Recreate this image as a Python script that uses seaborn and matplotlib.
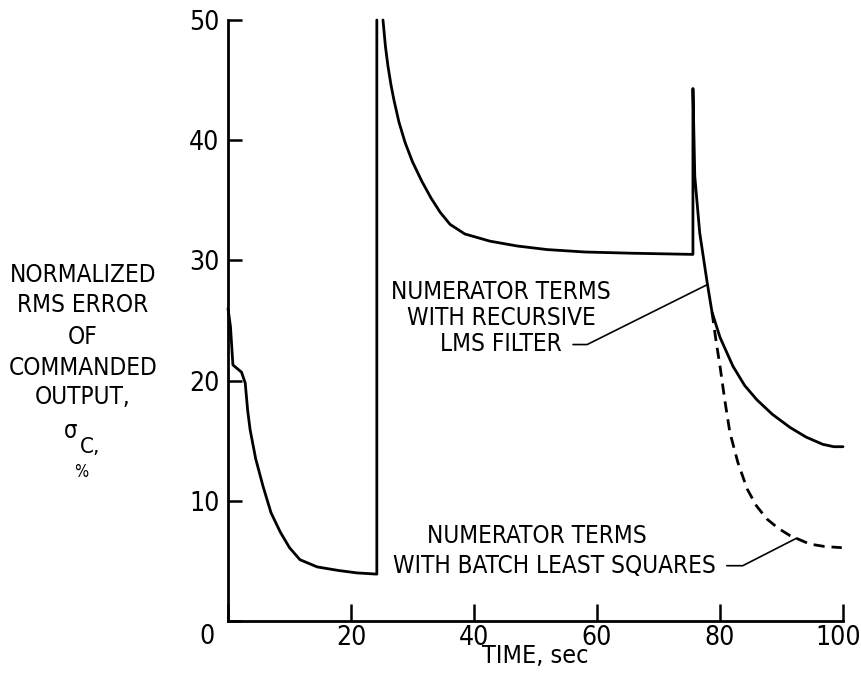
import matplotlib
matplotlib.use("Agg")
import matplotlib.pyplot as plt
import matplotlib.transforms as mtransforms
import numpy as np
import pandas as pd
import seaborn as sns

# ---- data ----
seg1_t = [0.0, 0.4, 0.8, 1.5, 2.2, 2.8, 3.2, 3.6, 4.5, 5.7, 7.0, 8.5, 10.0, 11.7, 14.5, 18.0, 21.0, 24.2, 24.2]
seg1_e = [26.0, 24.5, 21.3, 21.0, 20.7, 19.8, 17.5, 15.9, 13.5, 11.2, 9.0, 7.4, 6.1, 5.1, 4.5, 4.2, 4.0, 3.9, 50.0]

seg2_t = [25.2, 25.6, 26.0, 26.5, 27.0, 27.8, 28.8, 30.0, 31.5, 33.0, 34.5, 36.1, 38.5, 42.6, 47.0, 51.9, 58.0, 65.4, 75.6,
          75.6, 75.9, 76.7, 77.9, 78.7, 80.0, 82.1, 84.0, 86.0, 88.5, 91.4, 94.0, 96.7, 98.5, 100.0]
seg2_e = [50.0, 47.8, 46.2, 44.6, 43.3, 41.5, 39.8, 38.2, 36.6, 35.2, 34.0, 33.0, 32.2, 31.6, 31.2, 30.9, 30.7, 30.6, 30.5,
          44.3, 37.0, 32.3, 28.2, 25.7, 23.6, 21.2, 19.6, 18.4, 17.2, 16.1, 15.3, 14.7, 14.5, 14.5]

batch_t = [78.7, 79.3, 80.0, 80.8, 81.6, 82.9, 84.4, 85.9, 87.6, 89.5, 91.4, 94.6, 97.0, 99.8]
batch_e = [25.7, 23.5, 21.2, 18.3, 15.7, 13.2, 11.0, 9.6, 8.5, 7.7, 7.1, 6.4, 6.2, 6.1]

xticks = [0, 20, 40, 60, 80, 100]
xticklabels = ["", "20", "40", "60", "80", "100"]
yticks = [0, 10, 20, 30, 40, 50]
yticklabels = ["", "10", "20", "30", "40", "50"]

ylabel_lines = ["NORMALIZED", "RMS ERROR", "OF", "COMMANDED", "OUTPUT,"]
recursive_label = "NUMERATOR TERMS\nWITH RECURSIVE\nLMS FILTER"
batch_label1 = "NUMERATOR TERMS"
batch_label2 = "WITH BATCH LEAST SQUARES"

# ---- style ----
sns.set_style("ticks")
plt.rcParams["font.family"] = ["DejaVu Sans"]
plt.rcParams["font.stretch"] = "condensed"
plt.rcParams["text.color"] = "black"
plt.rcParams["axes.labelcolor"] = "black"
plt.rcParams["xtick.color"] = "black"
plt.rcParams["ytick.color"] = "black"

W, H = 862, 673
fig = plt.figure(figsize=(W / 100, H / 100), dpi=100)
ax = fig.add_axes([228 / W, 1 - 621 / H, (843 - 228) / W, (621 - 20) / H])

solid = pd.DataFrame({
    "t": seg1_t + seg2_t,
    "e": seg1_e + seg2_e,
    "seg": [1] * len(seg1_t) + [2] * len(seg2_t),
})
sns.lineplot(data=solid, x="t", y="e", units="seg", estimator=None, sort=False,
             color="black", lw=2.0, ax=ax, clip_on=False)
sns.lineplot(x=batch_t, y=batch_e, estimator=None, sort=False, color="black",
             lw=2.0, linestyle=(0, (4.0, 2.5)), ax=ax)

ax.set_xlim(0, 100)
ax.set_ylim(0, 50)
ax.set_xticks(xticks)
ax.set_xticklabels(xticklabels)
ax.set_yticks(yticks)
ax.set_yticklabels(yticklabels)
ax.tick_params(axis="both", direction="in", labelsize=19, width=1.8, color="black")
ax.tick_params(axis="x", length=12, pad=3)
ax.tick_params(axis="y", length=10, pad=6)
for s in ["top", "right"]:
    ax.spines[s].set_visible(False)
for s in ["left", "bottom"]:
    ax.spines[s].set_linewidth(2.0)
    ax.spines[s].set_color("black")
ax.set_xlabel("TIME, sec", fontsize=18, labelpad=-5)
ax.set_ylabel("")

# nudge the last x tick label so it stays inside the figure
last = ax.get_xticklabels()[-1]
last.set_transform(last.get_transform() + mtransforms.ScaledTranslation(-5 / 100, 0, fig.dpi_scale_trans))

# corner zero
fig.text(207 / W, 1 - 637 / H, "0", fontsize=19, ha="center", va="center")

# y label block
ys = [275, 305, 337, 368, 397]
for line, y in zip(ylabel_lines, ys):
    fig.text(83 / W, 1 - y / H, line, fontsize=17.5, ha="center", va="center")
fig.text(71 / W, 1 - 438 / H, "σ", fontsize=17, ha="center", va="baseline")
fig.text(90 / W, 1 - 453 / H, "C,", fontsize=16, ha="center", va="baseline")
fig.text(81 / W, 1 - 472 / H, "%", fontsize=12, ha="center", va="center")

# annotations
ax.text(44.4, 25.2, recursive_label, fontsize=17.5, ha="center", va="center",
        multialignment="center", linespacing=1.1)
ax.plot([56.1, 58.4, 78.0], [23.0, 23.0, 28.0], color="black", lw=1.2)

ax.text(50.2, 7.1, batch_label1, fontsize=17.5, ha="center", va="center")
ax.text(53.0, 4.6, batch_label2, fontsize=17.5, ha="center", va="center")
ax.plot([81.1, 83.7, 92.5], [4.6, 4.6, 6.9], color="black", lw=1.2)

fig.savefig("out.png", dpi=100)
